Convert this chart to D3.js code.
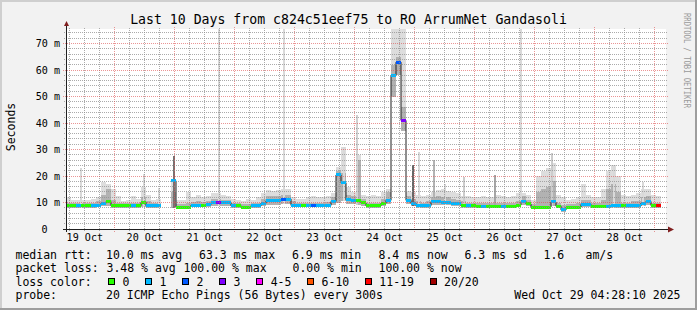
<!DOCTYPE html>
<html>
<head>
<meta charset="utf-8">
<script src="https://cdn.jsdelivr.net/npm/d3@7"></script>
<style>
	body { margin: 0; background: #f2f2f2; }
	svg { display: block; }
	text { font-family: "DejaVu Sans Mono", monospace; fill: #000; }
</style>
</head>
<body>
<svg id="graph" width="697" height="310"></svg>
<script>
var title = 'Last 10 Days from c824c51eef75 to RO ArrumNet Gandasoli';
var unitLabel = 'Seconds';
var watermark = 'RRDTOOL / TOBI OETIKER';
var startTime = Date.UTC(2025, 9, 19, 4, 28, 10);
var endTime = Date.UTC(2025, 9, 29, 4, 28, 10);
var stepHours = 2;

// median rtt (ms), one value per 2 hour step, null = no data
var median = [
	8.8, 8.8, 8.8, 8.8, 8.8, 8.8, 9.0, 9.7, 10.3, 8.8,
	8.8, 8.8, 8.8, 8.8, 8.8, 10.1, 8.8, 8.8, 8.8, null,
	null, 18.2, 8.3, 8.3, 8.3, 9.0, 9.0, 9.0, 9.2, 9.9,
	9.9, 9.9, 9.9, 8.8, 8.8, 8.3, 8.3, 8.8, 8.8, 9.7,
	10.6, 10.6, 10.6, 11.3, 11.3, 8.9, 8.9, 8.9, 8.9, 8.9,
	8.9, 8.9, 8.9, 10.4, 20.4, 17.5, 11.0, 10.8, 10.6, 9.9,
	8.8, 8.8, 8.8, 9.7, 10.8, 58.0, 63.0, 41.0, 10.8, 9.7,
	8.8, 8.8, 8.8, 10.2, 10.3, 10.0, 10.0, 9.8, 9.5, 8.8,
	8.8, 8.8, 8.5, 8.5, 8.5, 8.5, 8.5, 8.5, 8.5, 8.5,
	9.0, 10.4, 9.5, 8.3, 8.3, 8.3, 8.3, 10.2, 8.6, 7.2,
	8.2, 8.2, 8.2, 9.3, 9.3, 8.6, 8.6, 8.6, 8.6, 8.8,
	8.8, 8.8, 8.8, 8.8, 8.8, 9.8, 10.4, 8.8, 8.8, null
];

// lost pings out of 20
var loss = [
	0, 0, 1, 0, 0, 1, 1, 1, 0, 0,
	0, 0, 0, 1, 0, 0, 1, 1, 1, 0,
	0, 1, 0, 0, 0, 1, 1, 0, 1, 1,
	3, 1, 1, 1, 0, 0, 0, 1, 1, 1,
	1, 1, 1, 2, 1, 1, 1, 0, 1, 2,
	1, 1, 1, 1, 1, 1, 1, 1, 0, 0,
	0, 0, 0, 0, 1, 1, 2, 3, 1, 1,
	1, 1, 1, 1, 1, 1, 1, 1, 1, 0,
	1, 0, 0, 1, 0, 0, 0, 1, 0, 0,
	0, 1, 0, 0, 0, 0, 0, 1, 0, 1,
	0, 0, 0, 1, 1, 0, 0, 0, 1, 1,
	1, 0, 1, 1, 1, 1, 1, 0, 12, 0
];

// smoke: fastest ping, upper edge of the dense part, slowest ping
var smokeLo = [
	8.1, 8.1, 8.1, 8.1, 8.1, 8.1, 8.2, 8.5, 8.8, 8.1,
	8.1, 8.1, 8.1, 8.1, 8.1, 8.4, 8.1, 8.1, 8.1, null,
	null, 8.0, 7.7, 7.7, 7.7, 8.3, 8.3, 8.3, 8.3, 8.8,
	8.8, 8.8, 8.8, 8.1, 8.1, 7.7, 7.7, 8.1, 8.1, 8.6,
	9.2, 9.2, 9.2, 9.6, 9.6, 8.2, 8.2, 8.2, 8.2, 8.2,
	8.2, 8.2, 8.2, 9.0, 10.0, 10.5, 9.6, 9.4, 9.2, 8.8,
	8.1, 8.1, 8.1, 8.6, 9.3, 50.0, 58.0, 37.0, 9.5, 8.8,
	8.1, 8.1, 8.1, 9.0, 9.0, 8.9, 8.9, 8.8, 8.6, 8.1,
	8.1, 8.1, 7.8, 7.8, 7.8, 7.8, 7.8, 7.8, 7.8, 7.8,
	8.2, 9.0, 8.6, 7.6, 7.6, 7.6, 7.6, 8.8, 7.9, 6.5,
	7.5, 7.5, 7.5, 8.4, 8.4, 7.9, 7.9, 7.9, 7.9, 8.0,
	8.0, 8.0, 8.0, 8.0, 8.0, 8.8, 9.2, 8.0, 8.0, null
];
var smokeMid = [
	10, 9.8, 9.8, 9.8, 9.8, 10, 10.5, 13, 15, 11,
	10, 9.8, 9.8, 10, 10, 12, 10.5, 9.8, 10, null,
	null, 14, 9.5, 9.5, 10, 10.2, 10.5, 10.2, 10.5, 11.5,
	11.5, 11, 11, 10, 9.8, 9.5, 9.5, 9.8, 10, 11.5,
	12.5, 12.5, 12.5, 13, 13, 10.5, 10, 10, 10, 10,
	10, 10, 10.2, 12, 22, 21, 13, 12.5, 26, 11.5,
	10, 10, 10, 11.5, 14, 62, 65, 46, 12.5, 11.5,
	10.5, 10, 10.5, 12, 12.5, 12, 12, 11.5, 11, 10.5,
	10, 10, 9.8, 9.8, 9.8, 9.8, 10, 10, 9.8, 10,
	10.5, 12.5, 11, 9.5, 14, 15, 16, 18, 10, 9,
	9.5, 9.5, 9.8, 11, 11, 10, 10, 11, 15, 17,
	14, 10, 10, 10.5, 10.5, 12, 12.5, 10, 10, null
];
var smokeHi = [
	12, 11, 11, 11, 11, 11.5, 12, 17.8, 17, 15,
	12.4, 10.5, 11, 12.4, 11.5, 16, 13, 11, 11.5, null,
	null, 18, 11, 11, 14, 12, 13, 12, 12.5, 13.5,
	13.5, 13, 12.5, 11.5, 11, 10.5, 11.5, 11, 12, 13.5,
	14.7, 14.5, 14.7, 15, 15, 12, 11.5, 11.5, 12, 12.5,
	12, 12, 12.5, 13.5, 23.5, 31, 16, 14, 28, 13,
	12.5, 13, 12.5, 14, 15, 80, 80, 80, 14.5, 14,
	13, 12.5, 13, 14, 14.7, 15, 14.5, 14, 13.5, 12.5,
	12.5, 12, 12, 12.5, 12, 12, 12.7, 12.5, 12, 12.5,
	13.5, 13.5, 13, 11, 20, 22, 23, 25, 13, 12,
	11, 11.5, 12, 17, 13, 12, 12, 15, 22, 24,
	20, 13, 12.5, 13, 13.5, 15, 15, 13, 12.5, null
];

// short bursts of slow pings (hours after start, slowest ping ms, share of pings)
var spikeHours = [6.0, 31.2, 37.2, 43.0, 61.2, 87.2, 111.0, 116.2, 138.8, 141.2, 147.2, 151.6, 159.2, 171.6, 182.0, 194.4, 219.2, 230.8];
var spikeMax = [23, 20.7, 15.3, 27.7, 80, 80, 31, 43, 24, 29, 26, 17, 19.7, 20.3, 80, 28.6, 24, 17.8];
var spikeDensity = [0.15, 0.15, 0.15, 0.55, 0.15, 0.15, 0.15, 0.18, 0.6, 0.15, 0.3, 0.15, 0.2, 0.35, 0.15, 0.2, 0.15, 0.15];

var yTicks = [0, 10, 20, 30, 40, 50, 60, 70];
var lossLabels = ['0', '1', '2', '3', '4-5', '6-10', '11-19', '20/20'];
var lossColors = ['#26ff00', '#00b8ff', '#0059ff', '#7e00ff', '#ff00ff', '#ff5500', '#ff0000', '#a10000'];
var lossBreaks = [1, 2, 3, 4, 6, 11, 20];

var rttStats = ['10.0 ms avg', '63.3 ms max', '6.9 ms min', '8.4 ms now', '6.3 ms sd', '1.6', 'am/s'];
var lossStats = ['3.48 % avg', '100.00 % max', '0.00 % min', '100.00 % now'];
var probeText = '20 ICMP Echo Pings (56 Bytes) every 300s';
var stampText = 'Wed Oct 29 04:28:10 2025';

var svg = d3.select('#graph');
var stepMs = stepHours * 3600 * 1000;

var x = d3.scaleUtc().domain([startTime, endTime]).range([66, 666]);
var y = d3.scaleLinear().domain([0, 75.5]).range([229, 29]).clamp(true);
var lossColor = d3.scaleThreshold().domain(lossBreaks).range(lossColors);
var grey = d3.scaleLinear().domain([0, 1]).range(['#ffffff', '#000000']);

function px(v) {
	return Math.floor(v) + 0.5;
}

var buckets = median.map(function (m, i) {
	return {
		t0: new Date(startTime + i * stepMs),
		t1: new Date(startTime + (i + 1) * stepMs),
		median: m,
		loss: loss[i],
		lo: smokeLo[i],
		mid: smokeMid[i],
		hi: smokeHi[i]
	};
});

// background, frame, canvas
svg.append('rect').attr('width', 697).attr('height', 310).attr('fill', '#f2f2f2');
svg.append('path').attr('d', 'M0,0H697V2H2V310H0Z').attr('fill', '#cfcfcf');
svg.append('path').attr('d', 'M697,0V310H0V308H695V0Z').attr('fill', '#9e9e9e');
svg.append('rect')
	.attr('x', x.range()[0]).attr('y', y.range()[1])
	.attr('width', x.range()[1] - x.range()[0])
	.attr('height', y.range()[0] - y.range()[1])
	.attr('fill', '#ffffff');

// SMOKE
var data = buckets.filter(function (d) { return d.median != null; });
var smoke = svg.append('g');

smoke.selectAll('.hi').data(data).enter().append('rect')
	.attr('x', function (d) { return x(d.t0); })
	.attr('width', function (d) { return x(d.t1) - x(d.t0); })
	.attr('y', function (d) { return y(d.hi); })
	.attr('height', function (d) { return y(d.lo) - y(d.hi); })
	.attr('fill', '#dddddd')
	.attr('shape-rendering', 'crispEdges');

smoke.selectAll('.mid').data(data).enter().append('rect')
	.attr('x', function (d) { return x(d.t0); })
	.attr('width', function (d) { return x(d.t1) - x(d.t0); })
	.attr('y', function (d) { return y(d.mid); })
	.attr('height', function (d) { return y(d.lo) - y(d.mid); })
	.attr('fill', '#b2b2b2')
	.attr('shape-rendering', 'crispEdges');

smoke.selectAll('.spike').data(spikeHours).enter().append('rect')
	.attr('x', function (h) { return x(new Date(startTime + h * 3600000)) - 1; })
	.attr('width', 2)
	.attr('y', function (h, i) { return y(spikeMax[i]); })
	.attr('height', function (h, i) {
		var b = buckets[Math.floor(h / stepHours)];
		return y(b.lo) - y(spikeMax[i]);
	})
	.attr('fill', function (h, i) { return grey(spikeDensity[i]); })
	.attr('shape-rendering', 'crispEdges');

// MEDIAN: black line, then loss coloured marks
var pts = [];
buckets.forEach(function (d) {
	if (d.median == null) {
		pts.push(null);
	} else {
		pts.push([x(d.t0), y(d.median)]);
		pts.push([x(d.t1), y(d.median)]);
	}
});
var line = d3.line().defined(function (p) { return p != null; });
svg.append('path')
	.attr('d', line(pts))
	.attr('fill', 'none')
	.attr('stroke', '#202020')
	.attr('stroke-width', 1);

svg.append('g').selectAll('rect').data(data).enter().append('rect')
	.attr('x', function (d) { return x(d.t0); })
	.attr('width', function (d) { return x(d.t1) - x(d.t0); })
	.attr('y', function (d) { return y(d.median) - 1.5; })
	.attr('height', 3)
	.attr('fill', function (d) { return lossColor(d.loss); })
	.attr('shape-rendering', 'crispEdges');

// GRID (drawn over the data like rrdtool does)
var grid = svg.append('g').attr('stroke-dasharray', '1,1').attr('fill', 'none');
var minorY = d3.range(2, 75.5, 2).filter(function (v) { return v % 10 !== 0; });
grid.selectAll('.hminor').data(minorY).enter().append('line')
	.attr('x1', 64).attr('x2', 668)
	.attr('y1', function (v) { return px(y(v)); })
	.attr('y2', function (v) { return px(y(v)); })
	.attr('stroke', 'rgba(143,143,143,0.75)');

var minorX = d3.utcHour.every(6).range(new Date(startTime), new Date(endTime))
	.filter(function (t) { return t.getUTCHours() !== 0; });
grid.selectAll('.vminor').data(minorX).enter().append('line')
	.attr('y1', 231).attr('y2', 27)
	.attr('x1', function (t) { return px(x(t)); })
	.attr('x2', function (t) { return px(x(t)); })
	.attr('stroke', 'rgba(143,143,143,0.75)');

grid.selectAll('.hmajor').data(yTicks.slice(1)).enter().append('line')
	.attr('x1', 63).attr('x2', 669)
	.attr('y1', function (v) { return px(y(v)); })
	.attr('y2', function (v) { return px(y(v)); })
	.attr('stroke', 'rgba(222,79,79,0.6)');

var days = d3.utcDay.range(new Date(startTime), new Date(endTime));
grid.selectAll('.vmajor').data(days).enter().append('line')
	.attr('y1', 232).attr('y2', 27)
	.attr('x1', function (t) { return px(x(t)); })
	.attr('x2', function (t) { return px(x(t)); })
	.attr('stroke', 'rgba(222,79,79,0.6)');

// AXES
svg.append('line').attr('x1', 63).attr('x2', 669).attr('y1', px(y(0))).attr('y2', px(y(0)))
	.attr('stroke', '#1f1f1f');
svg.append('line').attr('x1', px(66)).attr('x2', px(66)).attr('y1', 232).attr('y2', 25)
	.attr('stroke', '#1f1f1f');
svg.append('path').attr('d', 'M64,26L69,26L66.5,21Z').attr('fill', '#801f1f');
svg.append('path').attr('d', 'M668,226.5L668,232.5L674,229.5Z').attr('fill', '#801f1f');

svg.append('g').selectAll('text').data(yTicks).enter().append('text')
	.attr('x', function (v) { return v === 0 ? 47.5 : 60; })
	.attr('y', function (v) { return px(y(v)) + 3.5; })
	.attr('text-anchor', 'end')
	.style('font-size', '10.1px')
	.text(function (v) { return v === 0 ? '0' : v + ' m'; });

var noons = days.map(function (t) { return d3.utcHour.offset(t, 12); })
	.filter(function (t) { return t < endTime; });
noons.unshift(new Date(Date.UTC(2025, 9, 19, 12)));
svg.append('g').selectAll('text').data(noons).enter().append('text')
	.attr('x', function (t) { return x(t); })
	.attr('y', 241)
	.attr('text-anchor', 'middle')
	.style('font-size', '10.1px')
	.text(d3.utcFormat('%d %b'));

// TITLES
svg.append('text').attr('x', 348.5).attr('y', 24).attr('text-anchor', 'middle')
	.style('font-size', '13.2px').text(title);
svg.append('text').attr('transform', 'translate(14.5,127) rotate(-90)')
	.attr('text-anchor', 'middle').style('font-size', '11.5px').text(unitLabel);
svg.append('text').attr('transform', 'translate(684,13) rotate(90)')
	.attr('textLength', 95).attr('lengthAdjust', 'spacingAndGlyphs')
	.style('font-size', '8px').style('fill', '#9a9a9a').text(watermark);

// LEGEND
var legend = svg.append('g').style('font-size', '11.5px');
function legendRow(label, items, xs, baseline) {
	legend.append('text').attr('x', 15.5).attr('y', baseline).text(label);
	items.forEach(function (s, i) {
		legend.append('text').attr('x', xs[i]).attr('y', baseline).text(s);
	});
}
legendRow('median rtt:', rttStats, [106, 199, 292, 378.5, 464.5, 543.5, 585.5], 258.5);
legendRow('packet loss:', lossStats, [106.5, 183.5, 292.5, 378.5], 272);
legendRow('probe:', [probeText], [106], 299);
legend.append('text').attr('x', 680.5).attr('y', 299).attr('text-anchor', 'end').text(stampText);

legend.append('text').attr('x', 15.5).attr('y', 285.7).text('loss color:');
var cursor = 108;
lossLabels.forEach(function (label, i) {
	legend.append('rect')
		.attr('x', Math.round(cursor) + 0.5).attr('y', 278.5)
		.attr('width', 6).attr('height', 6)
		.attr('fill', lossColors[i]).attr('stroke', '#000');
	var t = legend.append('text').attr('x', cursor + 14.5).attr('y', 285.7).text(label);
	cursor += 14.5 + t.node().getComputedTextLength() + 15.6;
});
</script>
</body>
</html>
